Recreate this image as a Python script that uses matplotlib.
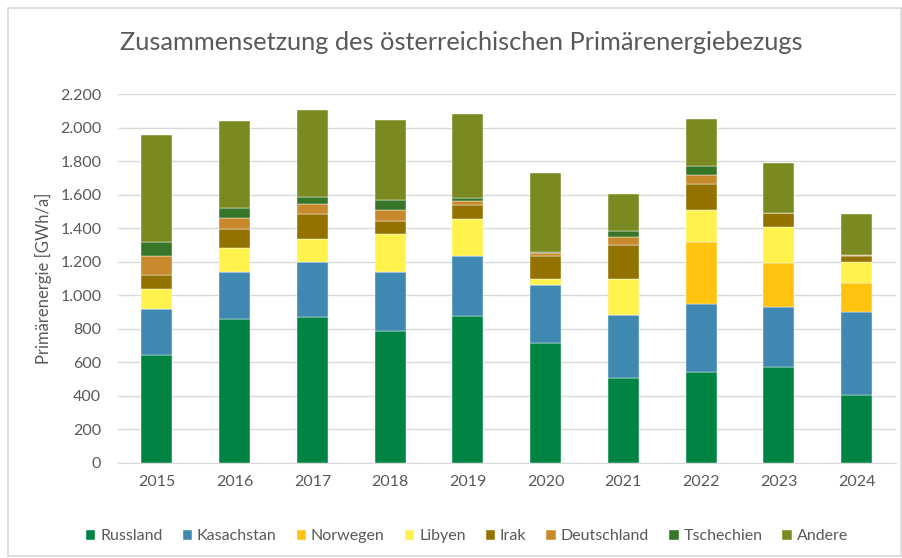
import numpy as np
import matplotlib
matplotlib.use('Agg')
import matplotlib.pyplot as plt
from matplotlib.patches import Rectangle
from matplotlib.ticker import FuncFormatter

plt.rcParams['font.family'] = ['Lato', 'DejaVu Sans']

# Daten (GWh/a)
jahre = ['2015', '2016', '2017', '2018', '2019', '2020', '2021', '2022', '2023', '2024']
russland = [641, 860, 870, 786, 876, 715, 508, 540, 574, 407]
kasachstan = [280, 276, 328, 354, 360, 344, 372, 409, 357, 491]
norwegen = [0, 0, 0, 0, 0, 0, 4, 370, 259, 178]
libyen = [114, 144, 137, 225, 219, 39, 214, 188, 216, 124]
irak = [83, 113, 148, 78, 83, 139, 203, 157, 84, 35]
deutschland = [114, 68, 59, 65, 22, 16, 44, 54, 0, 5]
tschechien = [83, 57, 42, 58, 20, 6, 39, 52, 0, 0]
andere = [643, 524, 519, 482, 498, 471, 217, 280, 301, 244]

serien = [('Russland', russland, '#008443'),
          ('Kasachstan', kasachstan, '#3e88b1'),
          ('Norwegen', norwegen, '#ffc310'),
          ('Libyen', libyen, '#fff24d'),
          ('Irak', irak, '#937200'),
          ('Deutschland', deutschland, '#c8892c'),
          ('Tschechien', tschechien, '#377628'),
          ('Andere', andere, '#7b8a20')]

fig = plt.figure(figsize=(9.03, 5.58), dpi=100)
ax = fig.add_axes([0.1307, 0.1703, 0.861, 0.6612])

# Rahmen um das Diagramm
fig.patches.append(Rectangle((8 / 903, 2 / 558), 893 / 903, 548 / 558,
                             transform=fig.transFigure, fill=False,
                             edgecolor='#d9d9d9', linewidth=1.2))

x = np.arange(len(jahre))
unten = np.zeros(len(jahre))
for name, werte, farbe in serien:
    ax.bar(x, werte, 0.4, bottom=unten, color=farbe, label=name,
           edgecolor='#ffffff', linewidth=0.3, zorder=3)
    unten += np.array(werte)

ax.set_xlim(-0.5, len(jahre) - 0.5)
ax.set_ylim(0, 2200)
ax.set_yticks(np.arange(0, 2201, 200))
ax.yaxis.set_major_formatter(FuncFormatter(lambda v, p: f'{int(v):,}'.replace(',', '.')))
ax.set_xticks(x)
ax.set_xticklabels(jahre)
ax.grid(axis='y', color='#d9d9d9', linewidth=1, zorder=0)
for s in ['top', 'right', 'left']:
    ax.spines[s].set_visible(False)
ax.spines['bottom'].set_color('#d9d9d9')
ax.tick_params(axis='both', length=0, colors='#595959', labelsize=11.5)
ax.tick_params(axis='x', pad=9)
ax.tick_params(axis='y', pad=12)

ax.set_ylabel('Primärenergie [GWh/a]', fontsize=12, color='#595959', labelpad=6)

fig.text(0.511, 0.923, 'Zusammensetzung des österreichischen Primärenergiebezugs',
         ha='center', va='center', fontsize=18.3, color='#595959')

ax.legend(loc='center', bbox_to_anchor=(0.517, 0.039), bbox_transform=fig.transFigure,
          ncol=8, frameon=False, fontsize=11.5, handlelength=0.6, handleheight=0.6,
          handletextpad=0.3, columnspacing=1.25, labelcolor='#595959')

fig.savefig('out.png', dpi=100)
